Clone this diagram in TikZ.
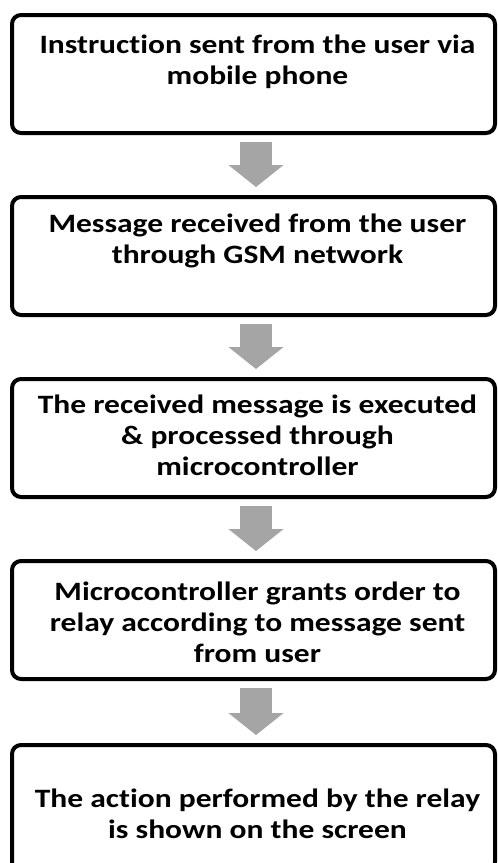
\documentclass[tikz,border=0pt]{standalone}
\usepackage{fontspec}
\setmainfont{Carlito}[FakeStretch=1.19,Ligatures=NoCommon]
\usepackage{tikz}
\usetikzlibrary{arrows.meta,positioning}
\definecolor{arrowgray}{RGB}{165,165,165}

\begin{document}
\begin{tikzpicture}[x=1pt,y=1pt,
  stepbox/.style={draw=black,line width=4pt,rounded corners=9pt,
    minimum width=483pt,minimum height=118pt,inner sep=0pt},
  steptext/.style={align=center,inner sep=0pt,
    font=\bfseries\fontsize{26.5}{31}\selectfont},
  flow/.style={draw=arrowgray,line width=32pt,
    -{Triangle[length=22pt,width=54pt]}},
  node distance=60pt]
  \useasboundingbox (0,0) rectangle (498,-863);
  % boxes
  \node[stepbox] (s1) at (253.5,-74) {};
  \node[stepbox,below=of s1] (s2) {};
  \node[stepbox,below=of s2] (s3) {};
  \node[stepbox,below=of s3] (s4) {};
  \node[stepbox,minimum height=126pt,below=62pt of s4] (s5) {};
  % texts
  \node[steptext] (t1) at ([xshift=4pt,yshift=12pt]s1.center)
    {Instruction sent from the user via\\mobile phone};
  \node[steptext] (t2) at ([xshift=4pt,yshift=15pt]s2.center)
    {Message received from the user\\through GSM network};
  \node[steptext] (t3) at ([xshift=4pt,yshift=3pt]s3.center)
    {The received message is executed\\\& processed through\\microcontroller};
  \node[steptext] (t4) at ([xshift=4pt,yshift=-2pt]s4.center)
    {Microcontroller grants order to\\relay according to message sent\\from user};
  \node[steptext] (t5) at ([xshift=4pt,yshift=-6pt]s5.center)
    {The action performed by the relay\\is shown on the screen};
  % arrows
  \foreach \a/\b in {s1/s2,s2/s3,s3/s4,s4/s5}
    \draw[flow] ([xshift=2.5pt,yshift=-7pt]\a.south) -- ([xshift=2.5pt,yshift=8pt]\b.north);
\end{tikzpicture}
\end{document}
